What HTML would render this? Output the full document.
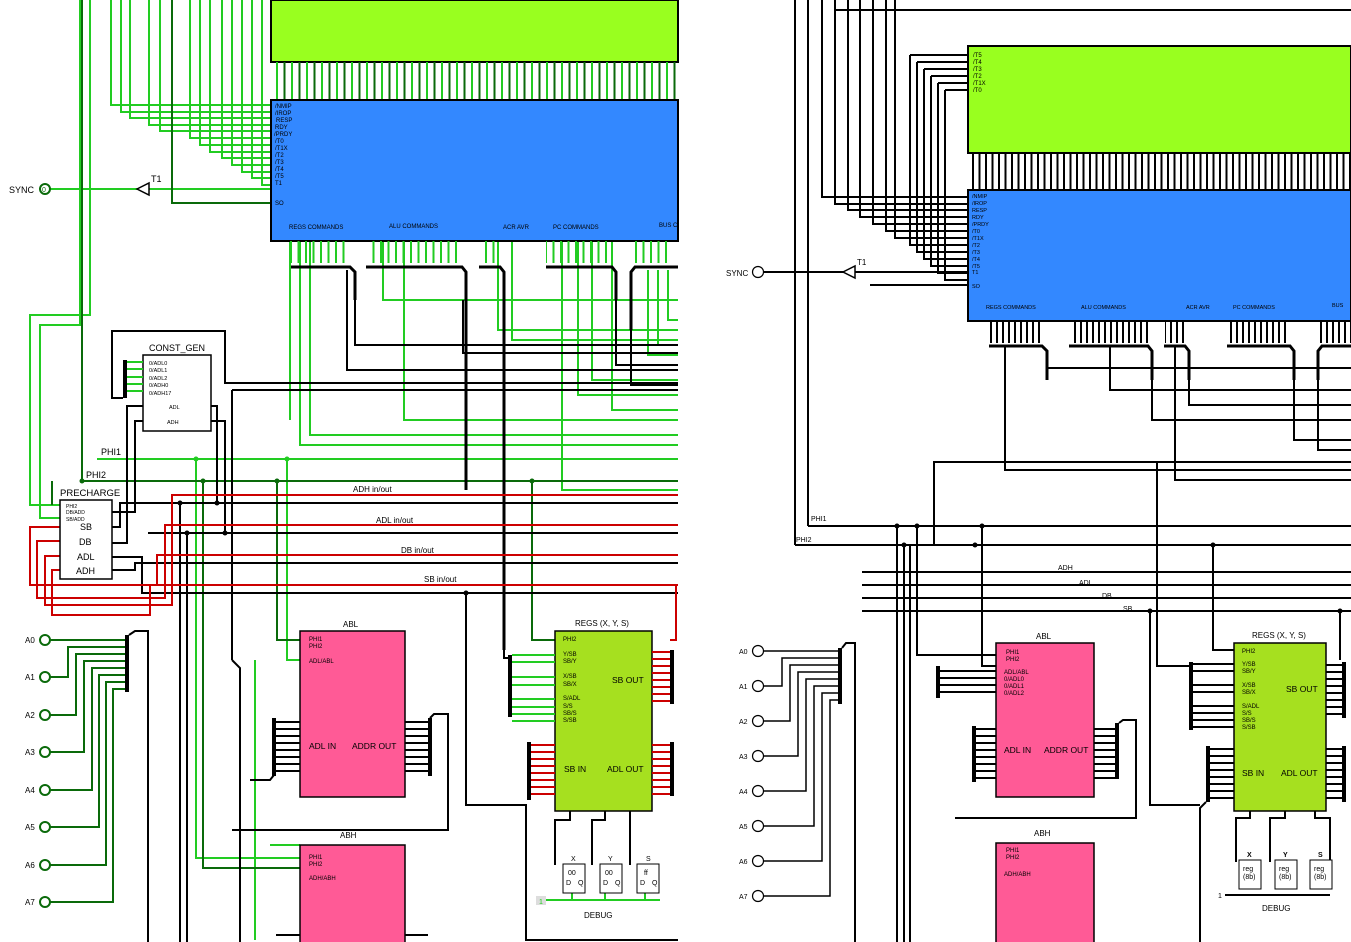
<!DOCTYPE html>
<html><head><meta charset="utf-8"><style>
html,body{margin:0;padding:0;background:#fff;}
svg{display:block;font-family:"Liberation Sans",sans-serif;}
</style></head><body>
<svg width="1351" height="942" viewBox="0 0 1351 942" xmlns="http://www.w3.org/2000/svg">
<defs>
<pattern id="lc" x="276" y="0" width="15" height="40" patternUnits="userSpaceOnUse">
<rect x="0" y="0" width="2" height="40" fill="#22cc22"/><rect x="7.5" y="0" width="2" height="40" fill="#0a6a0a"/></pattern>
<pattern id="rc" x="972" y="0" width="6.5" height="40" patternUnits="userSpaceOnUse">
<rect x="0" y="0" width="2" height="40" fill="#000"/></pattern>
<pattern id="lb" x="290" y="0" width="7.5" height="40" patternUnits="userSpaceOnUse">
<rect x="0" y="0" width="2" height="40" fill="#22cc22"/></pattern>
<pattern id="rb" x="990" y="0" width="6" height="40" patternUnits="userSpaceOnUse">
<rect x="0" y="0" width="2" height="40" fill="#000"/></pattern>
</defs>

<!-- ===== LEFT PANEL ===== -->
<rect x="271" y="0" width="407" height="62" fill="#99ff1f" stroke="#000" stroke-width="2"/>
<rect x="276" y="62" width="402" height="38" fill="url(#lc)"/>
<g stroke="#22cc22" stroke-width="2" fill="none">
<polyline points="111,0 111,105 271,105"/>
<polyline points="121,0 121,112 271,112"/>
<polyline points="130,0 130,118 271,118"/>
<polyline points="149,0 149,125 271,125"/>
<polyline points="160,0 160,131 271,131"/>
<polyline points="190,0 190,138 271,138"/>
<polyline points="200,0 200,145 271,145"/>
<polyline points="210,0 210,152 271,152"/>
<polyline points="222,0 222,158 271,158"/>
<polyline points="232,0 232,165 271,165"/>
<polyline points="242,0 242,172 271,172"/>
<polyline points="252,0 252,178 271,178"/>
<polyline points="262,0 262,185 271,185"/>
<line x1="50" y1="189" x2="271" y2="189"/>
<polyline points="90,0 90,315 30,315 30,505 60,505"/>
<polyline points="80,0 80,325 40,325 40,518 60,518"/>
<polyline points="97,459 678,459"/>
<polyline points="290,241 290,420"/>
<polyline points="300,241 300,445 678,445"/>
<polyline points="310,241 310,435 678,435"/>
<polyline points="383,241 383,300 678,300"/>
<polyline points="404,241 404,420 678,420"/>
<polyline points="498,241 498,330 678,330"/>
<polyline points="512,241 512,340 678,340"/>
<polyline points="578,241 578,395 678,395"/>
<polyline points="592,241 592,380 678,380"/>
<polyline points="612,241 612,410 678,410"/>
<polyline points="648,270 648,355 678,355"/>
<polyline points="658,270 658,345 678,345"/>
<polyline points="668,270 668,320 678,320"/>
<polyline points="562,241 562,490 678,490"/>
<polyline points="196,459 196,858 300,858"/>
<polyline points="287,459 287,660 300,660"/>
<polyline points="255,660 255,940"/>
<polyline points="270,845 300,845"/>
</g>
<g stroke="#0a6a0a" stroke-width="2" fill="none">
<polyline points="172,0 172,203 271,203"/>
<polyline points="82,0 82,481 678,481"/>
<polyline points="52,481 52,505"/>
<polyline points="203,481 203,868 300,868"/>
<polyline points="277,481 277,640 300,640"/>
<polyline points="532,481 532,640 555,640"/>
<polyline points="426,241 426,260"/>
</g>
<polygon points="137,189 149,183 149,195" fill="#fff" stroke="#000" stroke-width="1.5"/>
<text x="151" y="182" font-size="9">T1</text>
<text x="9" y="193" font-size="9">SYNC</text>
<circle cx="45" cy="189" r="5" fill="#fff" stroke="#0a6a0a" stroke-width="2"/>
<text x="42" y="192" font-size="7" fill="#0a6a0a">0</text>

<rect x="271" y="100" width="407" height="141" fill="#3388ff" stroke="#000" stroke-width="2"/>
<g font-size="6" fill="#000">
<text x="275" y="108">/NMIP</text><text x="275" y="115">/IROP</text><text x="276" y="122">RESP</text>
<text x="275" y="129">RDY</text><text x="274" y="136">/PRDY</text><text x="275" y="143">/T0</text>
<text x="275" y="150">/T1X</text><text x="275" y="157">/T2</text><text x="275" y="164">/T3</text>
<text x="275" y="171">/T4</text><text x="275" y="178">/T5</text><text x="275" y="185">T1</text>
<text x="275" y="205">SO</text>
<text x="289" y="229">REGS COMMANDS</text><text x="389" y="228">ALU COMMANDS</text>
<text x="503" y="229">ACR AVR</text><text x="553" y="229">PC COMMANDS</text><text x="659" y="227">BUS C</text>
</g>
<rect x="290" y="241" width="60" height="22" fill="url(#lb)"/>
<rect x="367" y="241" width="95" height="22" fill="url(#lb)"/>
<rect x="480" y="241" width="20" height="22" fill="url(#lb)"/>
<rect x="546" y="241" width="66" height="22" fill="url(#lb)"/>
<rect x="633" y="241" width="35" height="22" fill="url(#lb)"/>
<g stroke="#000" stroke-width="3" fill="none">
<polyline points="291,267 350,267 355,272 355,300"/>
<polyline points="366,267 462,267 466,272 466,490"/>
<polyline points="479,267 500,267 504,272 504,650"/>
<polyline points="546,267 612,267 616,272 616,300"/>
<polyline points="678,267 635,267 631,272 631,330"/>
</g>
<g stroke="#000" stroke-width="2" fill="none">
<polyline points="355,300 355,345 678,345"/>
<polyline points="347,270 347,370 678,370"/>
<polyline points="463,300 463,353 678,353"/>
<polyline points="616,300 616,365 678,365"/>
<polyline points="631,330 631,385 678,385"/>
<polyline points="504,650 504,658 510,658"/>
</g>

<g stroke="#000" stroke-width="2" fill="none">
<polyline points="123,398 112,398 112,331 225,331 225,383 678,383"/>
<polyline points="232,390 678,390"/>
<line x1="232" y1="390" x2="232" y2="660"/>
<polyline points="211,406 217,406 217,503"/>
<polyline points="211,421 225,421 225,533"/>
<polyline points="143,406 127,406 127,543 112,543"/>
<polyline points="143,421 135,421 135,512 112,512"/>
<polyline points="112,527 120,527 120,503 678,503"/>
<polyline points="112,557 142,557 142,593 678,593"/>
<polyline points="112,570 135,570 135,563 678,563"/>
<polyline points="148,533 678,533"/>
<line x1="180" y1="503" x2="180" y2="942"/>
<line x1="187" y1="533" x2="187" y2="942"/>
<polyline points="232,660 240,668 240,942"/>
</g>
<g stroke="#cc0000" stroke-width="2" fill="none">
<polyline points="60,527 30,527 30,585 157,585 157,555 678,555"/>
<polyline points="60,541 37,541 37,598 165,598 165,525 678,525"/>
<polyline points="60,556 45,556 45,605 172,605 172,495 678,495"/>
<polyline points="60,570 52,570 52,615 150,615 150,585 678,585"/>
<polyline points="676,585 676,640 670,640"/>
</g>
<rect x="143" y="355" width="68" height="76" fill="#fff" stroke="#000" stroke-width="1.5"/>
<rect x="123" y="360" width="4" height="38" fill="#000"/>
<g stroke="#22cc22" stroke-width="2"><line x1="127" y1="362" x2="143" y2="362"/><line x1="127" y1="369" x2="143" y2="369"/><line x1="127" y1="377" x2="143" y2="377"/><line x1="127" y1="384" x2="143" y2="384"/><line x1="127" y1="391" x2="143" y2="391"/></g>
<text x="149" y="351" font-size="9">CONST_GEN</text>
<g font-size="5.5"><text x="149" y="365">0/ADL0</text><text x="149" y="372">0/ADL1</text><text x="149" y="380">0/ADL2</text><text x="149" y="387">0/ADH0</text><text x="149" y="395">0/ADH17</text><text x="169" y="409">ADL</text><text x="167" y="424">ADH</text></g>
<text x="101" y="455" font-size="9">PHI1</text><text x="86" y="478" font-size="9">PHI2</text>
<text x="60" y="496" font-size="9.5">PRECHARGE</text>
<rect x="60" y="500" width="52" height="79" fill="#fff" stroke="#000" stroke-width="1.5"/>
<g font-size="5"><text x="66" y="508">PHI2</text><text x="66" y="514">DB/ADD</text><text x="66" y="521">SB/ADD</text></g>
<g font-size="9"><text x="80" y="530">SB</text><text x="79" y="545">DB</text><text x="77" y="560">ADL</text><text x="76" y="574">ADH</text></g>
<g font-size="8"><text x="353" y="492">ADH in/out</text><text x="376" y="523">ADL in/out</text><text x="401" y="553">DB in/out</text><text x="424" y="582">SB in/out</text></g>
<g fill="#22cc22"><circle cx="196" cy="459" r="2.5"/><circle cx="287" cy="459" r="2.5"/></g>
<g fill="#0a6a0a"><circle cx="82" cy="481" r="2.5"/><circle cx="203" cy="481" r="2.5"/><circle cx="277" cy="481" r="2.5"/><circle cx="532" cy="481" r="2.5"/></g>
<g fill="#000"><circle cx="180" cy="503" r="2.5"/><circle cx="217" cy="503" r="2.5"/><circle cx="187" cy="533" r="2.5"/><circle cx="225" cy="533" r="2.5"/><circle cx="466" cy="593" r="2.5"/></g>

<g font-size="8">
<text x="25" y="643">A0</text><text x="25" y="680">A1</text><text x="25" y="718">A2</text><text x="25" y="755">A3</text>
<text x="25" y="793">A4</text><text x="25" y="830">A5</text><text x="25" y="868">A6</text><text x="25" y="905">A7</text></g>
<g stroke="#0a6a0a" stroke-width="2" fill="#fff">
<polyline fill="none" points="50,640 125,640"/><polyline fill="none" points="50,677 68,677 68,647 125,647"/>
<polyline fill="none" points="50,715 76,715 76,654 125,654"/><polyline fill="none" points="50,752 84,752 84,661 125,661"/>
<polyline fill="none" points="50,790 92,790 92,668 125,668"/><polyline fill="none" points="50,827 99,827 99,675 125,675"/>
<polyline fill="none" points="50,865 106,865 106,682 125,682"/><polyline fill="none" points="50,902 113,902 113,689 125,689"/>
<circle cx="45" cy="640" r="5"/><circle cx="45" cy="677" r="5"/><circle cx="45" cy="715" r="5"/><circle cx="45" cy="752" r="5"/>
<circle cx="45" cy="790" r="5"/><circle cx="45" cy="827" r="5"/><circle cx="45" cy="865" r="5"/><circle cx="45" cy="902" r="5"/></g>
<rect x="125" y="635" width="4" height="57" fill="#000"/>
<polyline points="129,635 135,631 148,631 148,942" stroke="#000" stroke-width="2" fill="none"/>

<text x="343" y="627" font-size="8">ABL</text>
<rect x="300" y="631" width="105" height="166" fill="#ff5a96" stroke="#000" stroke-width="1.5"/>
<g font-size="6"><text x="309" y="641">PHI1</text><text x="309" y="648">PHI2</text><text x="309" y="663">ADL/ABL</text></g>
<g font-size="8.5"><text x="309" y="749">ADL IN</text><text x="352" y="749">ADDR OUT</text></g>
<g stroke="#000" stroke-width="2" fill="none">
<line x1="276" y1="722" x2="300" y2="722"/><line x1="276" y1="729" x2="300" y2="729"/><line x1="276" y1="736" x2="300" y2="736"/><line x1="276" y1="743" x2="300" y2="743"/><line x1="276" y1="750" x2="300" y2="750"/><line x1="276" y1="757" x2="300" y2="757"/><line x1="276" y1="764" x2="300" y2="764"/><line x1="276" y1="771" x2="300" y2="771"/>
<line x1="405" y1="722" x2="428" y2="722"/><line x1="405" y1="729" x2="428" y2="729"/><line x1="405" y1="736" x2="428" y2="736"/><line x1="405" y1="743" x2="428" y2="743"/><line x1="405" y1="750" x2="428" y2="750"/><line x1="405" y1="757" x2="428" y2="757"/><line x1="405" y1="764" x2="428" y2="764"/><line x1="405" y1="771" x2="428" y2="771"/>
<polyline points="430,718 434,714 448,714 448,830 232,830"/>
<polyline points="274,775 270,780 250,780"/>
</g>
<rect x="272" y="718" width="4" height="58" fill="#000"/><rect x="428" y="718" width="4" height="58" fill="#000"/>
<text x="340" y="838" font-size="8">ABH</text>
<rect x="300" y="845" width="105" height="100" fill="#ff5a96" stroke="#000" stroke-width="1.5"/>
<g font-size="6"><text x="309" y="859">PHI1</text><text x="309" y="866">PHI2</text><text x="309" y="880">ADH/ABH</text></g>
<g stroke="#000" stroke-width="2"><line x1="276" y1="935" x2="300" y2="935"/><line x1="405" y1="935" x2="428" y2="935"/></g>

<text x="575" y="626" font-size="8">REGS (X, Y, S)</text>
<rect x="555" y="631" width="97" height="180" fill="#a6e01f" stroke="#000" stroke-width="1.5"/>
<g font-size="6"><text x="563" y="641">PHI2</text><text x="563" y="656">Y/SB</text><text x="563" y="663">SB/Y</text><text x="563" y="678">X/SB</text><text x="563" y="686">SB/X</text><text x="563" y="700">S/ADL</text><text x="563" y="708">S/S</text><text x="563" y="715">SB/S</text><text x="563" y="722">S/SB</text></g>
<g font-size="8.5"><text x="612" y="683">SB OUT</text><text x="564" y="772">SB IN</text><text x="607" y="772">ADL OUT</text></g>
<rect x="508" y="655" width="4" height="62" fill="#000"/>
<g stroke="#22cc22" stroke-width="2"><line x1="512" y1="655" x2="555" y2="655"/><line x1="512" y1="662" x2="555" y2="662"/><line x1="512" y1="677" x2="555" y2="677"/><line x1="512" y1="685" x2="555" y2="685"/><line x1="512" y1="699" x2="555" y2="699"/><line x1="512" y1="707" x2="555" y2="707"/><line x1="512" y1="714" x2="555" y2="714"/><line x1="512" y1="721" x2="555" y2="721"/></g>
<g stroke="#cc0000" stroke-width="2">
<line x1="652" y1="652" x2="670" y2="652"/><line x1="652" y1="659" x2="670" y2="659"/><line x1="652" y1="666" x2="670" y2="666"/><line x1="652" y1="673" x2="670" y2="673"/><line x1="652" y1="680" x2="670" y2="680"/><line x1="652" y1="687" x2="670" y2="687"/><line x1="652" y1="694" x2="670" y2="694"/><line x1="652" y1="701" x2="670" y2="701"/>
<line x1="652" y1="745" x2="670" y2="745"/><line x1="652" y1="752" x2="670" y2="752"/><line x1="652" y1="759" x2="670" y2="759"/><line x1="652" y1="766" x2="670" y2="766"/><line x1="652" y1="773" x2="670" y2="773"/><line x1="652" y1="780" x2="670" y2="780"/><line x1="652" y1="787" x2="670" y2="787"/><line x1="652" y1="794" x2="670" y2="794"/>
<line x1="531" y1="745" x2="555" y2="745"/><line x1="531" y1="752" x2="555" y2="752"/><line x1="531" y1="759" x2="555" y2="759"/><line x1="531" y1="766" x2="555" y2="766"/><line x1="531" y1="773" x2="555" y2="773"/><line x1="531" y1="780" x2="555" y2="780"/><line x1="531" y1="787" x2="555" y2="787"/><line x1="531" y1="794" x2="555" y2="794"/></g>
<rect x="670" y="650" width="4" height="54" fill="#000"/><rect x="670" y="742" width="4" height="54" fill="#000"/><rect x="527" y="742" width="4" height="58" fill="#000"/>
<g stroke="#000" stroke-width="2" fill="none">
<polyline points="466,593 466,805 526,805 526,940 678,940"/>
<polyline points="570,811 570,820 555,820 555,865"/>
<polyline points="605,811 605,820 592,820 592,865"/>
<polyline points="630,811 630,820 630,865"/>
</g>
<g stroke="#22cc22" stroke-width="2" fill="none"><polyline points="545,900 660,900"/><line x1="572" y1="893" x2="572" y2="900"/><line x1="605" y1="893" x2="605" y2="900"/><line x1="645" y1="893" x2="645" y2="900"/></g>
<g fill="#fff" stroke="#000" stroke-width="1"><rect x="563" y="864" width="22" height="29"/><rect x="600" y="864" width="22" height="29"/><rect x="637" y="864" width="22" height="29"/></g>
<g font-size="7"><text x="571" y="861">X</text><text x="608" y="861">Y</text><text x="646" y="861">S</text>
<text x="568" y="875">00</text><text x="605" y="875">00</text><text x="644" y="875">ff</text>
<text x="566" y="885">D</text><text x="578" y="885">Q</text><text x="603" y="885">D</text><text x="615" y="885">Q</text><text x="640" y="885">D</text><text x="652" y="885">Q</text>
<text x="584" y="918" font-size="8">DEBUG</text></g>
<rect x="536" y="896" width="10" height="9" fill="#ddd"/><text x="539" y="904" font-size="7" fill="#22cc22">1</text>

<!-- ===== RIGHT PANEL ===== -->
<g stroke="#000" stroke-width="2" fill="none">
<polyline points="835,0 835,10 1351,10"/>
<line x1="795" y1="0" x2="795" y2="545"/>
<line x1="808" y1="0" x2="808" y2="526"/>
<polyline points="822,0 822,197 968,197"/>
<polyline points="835,10 835,204 968,204"/>
<polyline points="848,0 848,210 968,210"/>
<polyline points="860,0 860,217 968,217"/>
<polyline points="873,0 873,224 968,224"/>
<polyline points="886,0 886,231 968,231"/>
<polyline points="895,0 895,238 968,238"/>
<polyline points="910,55 968,55"/><polyline points="910,55 910,245 968,245"/>
<polyline points="917,62 968,62"/><polyline points="917,62 917,252 968,252"/>
<polyline points="924,69 968,69"/><polyline points="924,69 924,259 968,259"/>
<polyline points="931,76 968,76"/><polyline points="931,76 931,266 968,266"/>
<polyline points="938,83 968,83"/><polyline points="938,83 938,273 968,273"/>
<polyline points="945,90 968,90"/><polyline points="945,90 945,280 968,280"/>
<polyline points="870,285 968,285"/>
<line x1="763" y1="272" x2="968" y2="272"/>
<line x1="808" y1="526" x2="1351" y2="526"/>
<line x1="795" y1="545" x2="1351" y2="545"/>
<line x1="862" y1="572" x2="1351" y2="572"/>
<line x1="862" y1="585" x2="1351" y2="585"/>
<line x1="862" y1="598" x2="1351" y2="598"/>
<line x1="862" y1="611" x2="1351" y2="611"/>
<polyline points="934,545 934,462 1351,462"/>
<polyline points="982,526 982,666 996,666"/>
<line x1="897" y1="524" x2="897" y2="942"/><line x1="904" y1="545" x2="904" y2="942"/>
<polyline points="917,526 917,655 996,655"/><polyline points="910,545 910,942"/>
<polyline points="1157,462 1157,666 1190,666"/>
<polyline points="1213,545 1213,650 1234,650"/>
<polyline points="1150,611 1150,805 1200,805"/>
<polyline points="1340,611 1340,660"/>
</g>
<rect x="968" y="46" width="383" height="107" fill="#99ff1f" stroke="#000" stroke-width="2"/>
<g font-size="6"><text x="973" y="57">/T5</text><text x="973" y="64">/T4</text><text x="973" y="71">/T3</text><text x="973" y="78">/T2</text><text x="973" y="85">/T1X</text><text x="973" y="92">/T0</text></g>
<rect x="972" y="153" width="379" height="37" fill="url(#rc)"/>
<rect x="968" y="190" width="383" height="131" fill="#3388ff" stroke="#000" stroke-width="2"/>
<g font-size="5.5"><text x="972" y="198">/NMIP</text><text x="972" y="205">/IROP</text><text x="972" y="212">RESP</text><text x="972" y="219">RDY</text><text x="972" y="226">/PRDY</text><text x="972" y="233">/T0</text><text x="972" y="240">/T1X</text><text x="972" y="247">/T2</text><text x="972" y="254">/T3</text><text x="972" y="261">/T4</text><text x="972" y="268">/T5</text><text x="972" y="274">T1</text><text x="972" y="288">SO</text>
<text x="986" y="309">REGS COMMANDS</text><text x="1081" y="309">ALU COMMANDS</text><text x="1186" y="309">ACR AVR</text><text x="1233" y="309">PC COMMANDS</text><text x="1332" y="307">BUS</text></g>
<polygon points="843,272 855,266 855,278" fill="#fff" stroke="#000" stroke-width="1.5"/>
<text x="857" y="265" font-size="8">T1</text>
<text x="726" y="276" font-size="8">SYNC</text>
<circle cx="758" cy="272" r="5.5" fill="#fff" stroke="#000" stroke-width="1.2"/>
<rect x="990" y="321" width="52" height="22" fill="url(#rb)"/>
<rect x="1070" y="321" width="78" height="22" fill="url(#rb)"/>
<rect x="1165" y="321" width="20" height="22" fill="url(#rb)"/>
<rect x="1228" y="321" width="60" height="22" fill="url(#rb)"/>
<rect x="1320" y="321" width="31" height="22" fill="url(#rb)"/>
<g stroke="#000" stroke-width="3" fill="none">
<polyline points="989,346 1042,346 1047,351 1047,380"/>
<polyline points="1069,346 1148,346 1152,351 1152,380"/>
<polyline points="1164,346 1185,346 1189,351 1189,380"/>
<polyline points="1227,346 1290,346 1294,351 1294,380"/>
<polyline points="1351,346 1322,346 1318,351 1318,380"/>
</g>
<g stroke="#000" stroke-width="2" fill="none">
<polyline points="1047,380 1047,368 1351,368"/><polyline points="1005,346 1005,470 1351,470"/>
<polyline points="1110,346 1110,390 1351,390"/><polyline points="1152,380 1152,420 1351,420"/>
<polyline points="1189,380 1189,405 1351,405"/><polyline points="1294,380 1294,440 1351,440"/>
<polyline points="1318,380 1318,450 1351,450"/><polyline points="1175,346 1175,480 1351,480"/>
</g>
<g font-size="7"><text x="811" y="521">PHI1</text><text x="796" y="542">PHI2</text>
<text x="1058" y="570">ADH</text><text x="1079" y="585">ADL</text><text x="1102" y="598">DB</text><text x="1123" y="611">SB</text></g>
<g fill="#000"><circle cx="982" cy="526" r="2.5"/><circle cx="975" cy="545" r="2.5"/><circle cx="1213" cy="545" r="2.5"/><circle cx="1150" cy="611" r="2.5"/><circle cx="1340" cy="611" r="2.5"/><circle cx="897" cy="526" r="2.5"/><circle cx="904" cy="545" r="2.5"/><circle cx="917" cy="526" r="2.5"/></g>
<g font-size="7"><text x="739" y="654">A0</text><text x="739" y="689">A1</text><text x="739" y="724">A2</text><text x="739" y="759">A3</text><text x="739" y="794">A4</text><text x="739" y="829">A5</text><text x="739" y="864">A6</text><text x="739" y="899">A7</text></g>
<g stroke="#000" stroke-width="1.5" fill="none">
<polyline points="763,651 838,651"/><polyline points="763,686 782,686 782,658 838,658"/><polyline points="763,721 790,721 790,665 838,665"/><polyline points="763,756 798,756 798,672 838,672"/><polyline points="763,791 806,791 806,679 838,679"/><polyline points="763,826 814,826 814,686 838,686"/><polyline points="763,861 822,861 822,693 838,693"/><polyline points="763,896 830,896 830,700 838,700"/>
</g>
<g fill="#fff" stroke="#000" stroke-width="1.2"><circle cx="758" cy="651" r="5.5"/><circle cx="758" cy="686" r="5.5"/><circle cx="758" cy="721" r="5.5"/><circle cx="758" cy="756" r="5.5"/><circle cx="758" cy="791" r="5.5"/><circle cx="758" cy="826" r="5.5"/><circle cx="758" cy="861" r="5.5"/><circle cx="758" cy="896" r="5.5"/></g>
<rect x="838" y="648" width="4" height="56" fill="#000"/>
<polyline points="842,648 846,643 855,643 855,942" stroke="#000" stroke-width="2" fill="none"/>
<text x="1036" y="639" font-size="8">ABL</text>
<rect x="996" y="643" width="98" height="154" fill="#ff5a96" stroke="#000" stroke-width="1.5"/>
<g font-size="6"><text x="1006" y="654">PHI1</text><text x="1006" y="661">PHI2</text><text x="1004" y="674">ADL/ABL</text><text x="1004" y="681">0/ADL0</text><text x="1004" y="688">0/ADL1</text><text x="1004" y="695">0/ADL2</text></g>
<g font-size="8.5"><text x="1004" y="753">ADL IN</text><text x="1044" y="753">ADDR OUT</text></g>
<g stroke="#000" stroke-width="2">
<line x1="940" y1="671" x2="996" y2="671"/><line x1="940" y1="678" x2="996" y2="678"/><line x1="940" y1="685" x2="996" y2="685"/><line x1="940" y1="692" x2="996" y2="692"/>
<line x1="975" y1="729" x2="996" y2="729"/><line x1="975" y1="736" x2="996" y2="736"/><line x1="975" y1="743" x2="996" y2="743"/><line x1="975" y1="750" x2="996" y2="750"/><line x1="975" y1="757" x2="996" y2="757"/><line x1="975" y1="764" x2="996" y2="764"/><line x1="975" y1="771" x2="996" y2="771"/><line x1="975" y1="778" x2="996" y2="778"/>
<line x1="1094" y1="729" x2="1115" y2="729"/><line x1="1094" y1="736" x2="1115" y2="736"/><line x1="1094" y1="743" x2="1115" y2="743"/><line x1="1094" y1="750" x2="1115" y2="750"/><line x1="1094" y1="757" x2="1115" y2="757"/><line x1="1094" y1="764" x2="1115" y2="764"/><line x1="1094" y1="771" x2="1115" y2="771"/><line x1="1094" y1="778" x2="1115" y2="778"/>
</g>
<rect x="936" y="666" width="4" height="32" fill="#000"/><rect x="972" y="726" width="4" height="56" fill="#000"/><rect x="1115" y="723" width="4" height="56" fill="#000"/>
<polyline points="1119,723 1123,720 1136,720 1136,818 955,818" stroke="#000" stroke-width="2" fill="none"/>
<text x="1034" y="836" font-size="8">ABH</text>
<rect x="996" y="843" width="98" height="102" fill="#ff5a96" stroke="#000" stroke-width="1.5"/>
<g font-size="6"><text x="1006" y="852">PHI1</text><text x="1006" y="859">PHI2</text><text x="1004" y="876">ADH/ABH</text></g>
<text x="1252" y="638" font-size="8">REGS (X, Y, S)</text>
<rect x="1234" y="643" width="92" height="168" fill="#a6e01f" stroke="#000" stroke-width="1.5"/>
<g font-size="6"><text x="1242" y="653">PHI2</text><text x="1242" y="666">Y/SB</text><text x="1242" y="673">SB/Y</text><text x="1242" y="687">X/SB</text><text x="1242" y="694">SB/X</text><text x="1242" y="708">S/ADL</text><text x="1242" y="715">S/S</text><text x="1242" y="722">SB/S</text><text x="1242" y="729">S/SB</text></g>
<g font-size="8.5"><text x="1286" y="692">SB OUT</text><text x="1242" y="776">SB IN</text><text x="1281" y="776">ADL OUT</text></g>
<g stroke="#000" stroke-width="2">
<line x1="1193" y1="664" x2="1234" y2="664"/><line x1="1193" y1="671" x2="1234" y2="671"/><line x1="1193" y1="685" x2="1234" y2="685"/><line x1="1193" y1="692" x2="1234" y2="692"/><line x1="1193" y1="706" x2="1234" y2="706"/><line x1="1193" y1="713" x2="1234" y2="713"/><line x1="1193" y1="720" x2="1234" y2="720"/><line x1="1193" y1="727" x2="1234" y2="727"/>
<line x1="1210" y1="749" x2="1234" y2="749"/><line x1="1210" y1="756" x2="1234" y2="756"/><line x1="1210" y1="763" x2="1234" y2="763"/><line x1="1210" y1="770" x2="1234" y2="770"/><line x1="1210" y1="777" x2="1234" y2="777"/><line x1="1210" y1="784" x2="1234" y2="784"/><line x1="1210" y1="791" x2="1234" y2="791"/><line x1="1210" y1="798" x2="1234" y2="798"/>
<line x1="1326" y1="665" x2="1342" y2="665"/><line x1="1326" y1="672" x2="1342" y2="672"/><line x1="1326" y1="679" x2="1342" y2="679"/><line x1="1326" y1="686" x2="1342" y2="686"/><line x1="1326" y1="693" x2="1342" y2="693"/><line x1="1326" y1="700" x2="1342" y2="700"/><line x1="1326" y1="707" x2="1342" y2="707"/><line x1="1326" y1="714" x2="1342" y2="714"/>
<line x1="1326" y1="749" x2="1342" y2="749"/><line x1="1326" y1="756" x2="1342" y2="756"/><line x1="1326" y1="763" x2="1342" y2="763"/><line x1="1326" y1="770" x2="1342" y2="770"/><line x1="1326" y1="777" x2="1342" y2="777"/><line x1="1326" y1="784" x2="1342" y2="784"/><line x1="1326" y1="791" x2="1342" y2="791"/><line x1="1326" y1="798" x2="1342" y2="798"/>
</g>
<rect x="1189" y="662" width="4" height="68" fill="#000"/><rect x="1206" y="746" width="4" height="56" fill="#000"/><rect x="1342" y="662" width="4" height="56" fill="#000"/><rect x="1342" y="746" width="4" height="56" fill="#000"/>
<g stroke="#000" stroke-width="2" fill="none">
<polyline points="1206,802 1200,808 1200,942"/>
<polyline points="1250,811 1250,818 1236,818 1236,862"/>
<polyline points="1285,811 1285,818 1270,818 1270,862"/>
<polyline points="1315,811 1315,818 1330,818 1330,862"/>
<polyline points="1225,895 1330,895"/>
</g>
<g fill="#fff" stroke="#000" stroke-width="1"><rect x="1239" y="860" width="22" height="29"/><rect x="1275" y="860" width="22" height="29"/><rect x="1310" y="860" width="22" height="29"/></g>
<g font-size="7"><text x="1247" y="857" font-weight="bold">X</text><text x="1283" y="857" font-weight="bold">Y</text><text x="1318" y="857" font-weight="bold">S</text>
<text x="1243" y="871">reg</text><text x="1279" y="871">reg</text><text x="1314" y="871">reg</text>
<text x="1243" y="879">(8b)</text><text x="1279" y="879">(8b)</text><text x="1314" y="879">(8b)</text>
<text x="1218" y="898">1</text><text x="1262" y="911" font-size="8">DEBUG</text></g>
</svg>
</body></html>
